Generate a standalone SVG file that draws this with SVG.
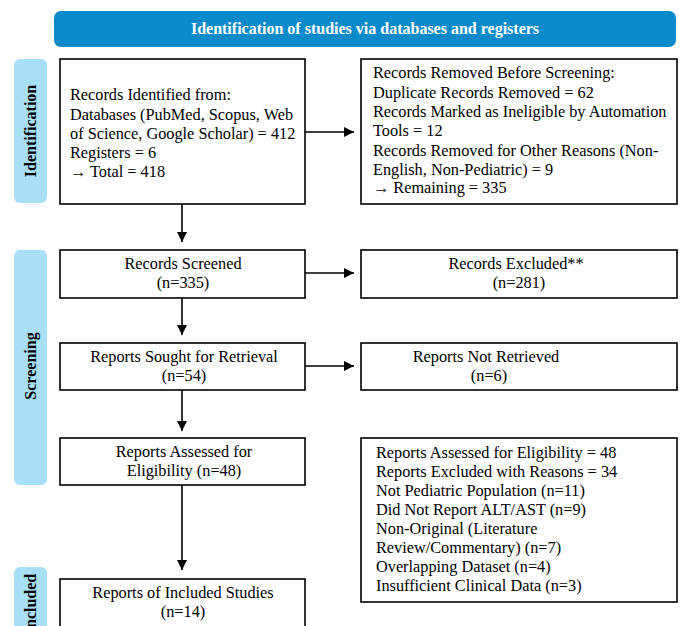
<svg xmlns="http://www.w3.org/2000/svg" width="683" height="626" viewBox="0 0 683 626">
<defs>
<marker id="ah" viewBox="0 0 10 10" refX="10" refY="5" markerWidth="10" markerHeight="10" markerUnits="userSpaceOnUse" orient="auto">
<path d="M0,0 L10,5 L0,10 z" fill="#000"/>
</marker>
</defs>
<style>
.box{fill:#fff;stroke:#000;stroke-width:1.6}
.lab{fill:#a9def7}
.t{font-family:"Liberation Serif","Times New Roman",serif;font-size:16.3px;fill:#000}
.c{text-anchor:middle}
.b{font-family:"Liberation Serif","Times New Roman",serif;font-size:16px;font-weight:bold}
.con{stroke:#000;stroke-width:1.6;fill:none;marker-end:url(#ah)}
</style>
<rect width="683" height="626" fill="#fff"/>
<g id="header">
<rect x="54" y="11" width="622" height="36" rx="7" fill="#0a8acb"/>
<text class="b c" x="365" y="34" fill="#fff">Identification of studies via databases and registers</text>
</g>
<g id="label-identification">
<rect class="lab" x="14" y="59" width="33" height="144" rx="6"/>
<text class="b c" transform="translate(36,131) rotate(-90)">Identification</text>
</g>
<g id="label-screening">
<rect class="lab" x="14" y="250" width="33" height="235" rx="6"/>
<text class="b c" transform="translate(36,366) rotate(-90)">Screening</text>
</g>
<g id="label-included">
<rect class="lab" x="14" y="567" width="33" height="70" rx="6"/>
<text class="b c" transform="translate(36,604) rotate(-90)">Included</text>
</g>
<g id="records-identified">
<rect class="box" x="60" y="59" width="245" height="145"/>
<text class="t" x="70" y="100">Records Identified from:</text>
<text class="t" x="70" y="120">Databases (PubMed, Scopus, Web</text>
<text class="t" x="70" y="139">of Science, Google Scholar) = 412</text>
<text class="t" x="70" y="158">Registers = 6</text>
<text class="t" x="70" y="177">→ Total = 418</text>
</g>
<g id="records-removed">
<rect class="box" x="361" y="59" width="316" height="145"/>
<text class="t" x="373" y="78">Records Removed Before Screening:</text>
<text class="t" x="373" y="98">Duplicate Records Removed = 62</text>
<text class="t" x="373" y="117">Records Marked as Ineligible by Automation</text>
<text class="t" x="373" y="136">Tools = 12</text>
<text class="t" x="373" y="156">Records Removed for Other Reasons (Non-</text>
<text class="t" x="373" y="175">English, Non-Pediatric) = 9</text>
<text class="t" x="373" y="193">→ Remaining = 335</text>
</g>
<g id="records-screened">
<rect class="box" x="60" y="250" width="245" height="48"/>
<text class="t c" x="183" y="269">Records Screened</text>
<text class="t c" x="183" y="288">(n=335)</text>
</g>
<g id="records-excluded">
<rect class="box" x="361" y="250" width="316" height="48"/>
<text class="t c" x="516" y="269">Records Excluded**</text>
<text class="t c" x="519" y="288">(n=281)</text>
</g>
<g id="reports-sought">
<rect class="box" x="60" y="343" width="245" height="47"/>
<text class="t c" x="184" y="362">Reports Sought for Retrieval</text>
<text class="t c" x="184" y="381">(n=54)</text>
</g>
<g id="reports-not-retrieved">
<rect class="box" x="361" y="343" width="316" height="47"/>
<text class="t c" x="486" y="362">Reports Not Retrieved</text>
<text class="t c" x="489" y="381">(n=6)</text>
</g>
<g id="reports-assessed">
<rect class="box" x="60" y="438" width="245" height="47"/>
<text class="t c" x="184" y="457">Reports Assessed for</text>
<text class="t c" x="184" y="476">Eligibility (n=48)</text>
</g>
<g id="reports-excluded">
<rect class="box" x="361" y="438" width="316" height="164"/>
<text class="t" x="376" y="458">Reports Assessed for Eligibility = 48</text>
<text class="t" x="376" y="477">Reports Excluded with Reasons = 34</text>
<text class="t" x="376" y="496">Not Pediatric Population (n=11)</text>
<text class="t" x="376" y="515">Did Not Report ALT/AST (n=9)</text>
<text class="t" x="376" y="534">Non-Original (Literature</text>
<text class="t" x="376" y="553">Review/Commentary) (n=7)</text>
<text class="t" x="376" y="572">Overlapping Dataset (n=4)</text>
<text class="t" x="376" y="591">Insufficient Clinical Data (n=3)</text>
</g>
<g id="reports-included">
<rect class="box" x="60" y="579" width="245" height="60"/>
<text class="t c" x="183" y="598">Reports of Included Studies</text>
<text class="t c" x="183" y="617">(n=14)</text>
</g>
<g id="connectors">
<line class="con" x1="305" y1="132" x2="354" y2="132"/>
<line class="con" x1="182" y1="204" x2="182" y2="242"/>
<line class="con" x1="305" y1="273" x2="354" y2="273"/>
<line class="con" x1="182" y1="298" x2="182" y2="335"/>
<line class="con" x1="305" y1="366" x2="354" y2="366"/>
<line class="con" x1="182" y1="390" x2="182" y2="431"/>
<line class="con" x1="182" y1="485" x2="182" y2="570"/>
</g>
</svg>
